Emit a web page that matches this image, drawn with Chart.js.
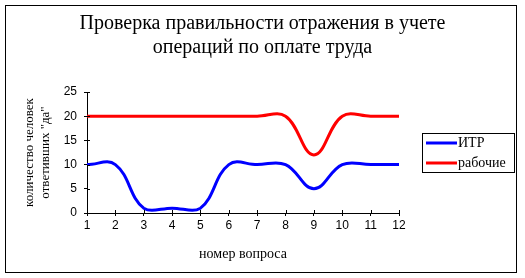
<!DOCTYPE html>
<html>
<head>
<meta charset="utf-8">
<script src="https://cdn.jsdelivr.net/npm/chart.js@4"></script>
<style>
  html, body { margin: 0; padding: 0; background: #fff; }
  #wrap { width: 525px; height: 278px; }
</style>
</head>
<body>
<div id="wrap"><canvas id="chart" width="525" height="278"></canvas></div>
<script>
// chart data
const questions = ['1','2','3','4','5','6','7','8','9','10','11','12'];
const itrValues = [10, 10, 1, 1, 1, 10, 10, 10, 5, 10, 10, 10];
const workerValues = [20, 20, 20, 20, 20, 20, 20, 20, 12, 20, 20, 20];
const yTicks = [0, 5, 10, 15, 20, 25];

const titleLines = ['Проверка правильности отражения в учете', 'операций по оплате труда'];
const yTitle = ['количество человек', 'ответивших "да"'];
const xTitle = 'номер вопроса';

const serif = 'Liberation Serif';
const sans = 'Liberation Sans';

// white page, outer frame
const framePlugin = {
  id: 'frame',
  beforeDraw(chart) {
    const ctx = chart.ctx;
    ctx.save();
    ctx.fillStyle = '#fff';
    ctx.fillRect(0, 0, chart.width, chart.height);
    ctx.strokeStyle = '#000';
    ctx.lineWidth = 1;
    ctx.strokeRect(5.5, 5.5, 511, 267);
    ctx.restore();
  }
};

// Excel style tick marks crossing the axis (inner half)
const innerTicks = {
  id: 'innerTicks',
  afterDraw(chart) {
    const ctx = chart.ctx;
    const xs = chart.scales.x, ys = chart.scales.y;
    ctx.save();
    ctx.strokeStyle = '#000';
    ctx.lineWidth = 1;
    ctx.beginPath();
    xs.ticks.forEach((t, i) => {
      const px = Math.round(xs.getPixelForTick(i)) + 0.5;
      ctx.moveTo(px, xs.top);
      ctx.lineTo(px, xs.top - 3);
    });
    ys.ticks.forEach((t, i) => {
      const py = Math.round(ys.getPixelForTick(i)) + 0.5;
      ctx.moveTo(ys.right, py);
      ctx.lineTo(ys.right + 3, py);
    });
    ctx.stroke();
    ctx.restore();
  }
};

// boxed legend on the right
const boxLegend = {
  id: 'boxLegend',
  afterDraw(chart) {
    const ctx = chart.ctx;
    ctx.save();
    ctx.strokeStyle = '#000';
    ctx.lineWidth = 1;
    ctx.strokeRect(422.5, 133.5, 92, 39);
    ctx.font = '14px "' + serif + '"';
    ctx.textBaseline = 'middle';
    ctx.fillStyle = '#000';
    chart.data.datasets.forEach((ds, i) => {
      const y = 143 + i * 20;
      ctx.strokeStyle = ds.borderColor;
      ctx.lineWidth = 3;
      ctx.beginPath();
      ctx.moveTo(426, y);
      ctx.lineTo(457, y);
      ctx.stroke();
      ctx.fillText(ds.label, 458, y);
    });
    ctx.restore();
  }
};

const tickGrid = {
  drawOnChartArea: false,
  drawTicks: true,
  tickLength: 3,
  color: '#000'
};

new Chart(document.getElementById('chart'), {
  type: 'line',
  data: {
    labels: questions,
    datasets: [
      {
        label: 'ИТР',
        data: itrValues,
        borderColor: '#0000ff',
        backgroundColor: '#0000ff',
        borderWidth: 3,
        pointRadius: 0,
        tension: 0.4,
        fill: false
      },
      {
        label: 'рабочие',
        data: workerValues,
        borderColor: '#ff0000',
        backgroundColor: '#ff0000',
        borderWidth: 3,
        pointRadius: 0,
        tension: 0.4,
        fill: false
      }
    ]
  },
  options: {
    responsive: false,
    animation: false,
    devicePixelRatio: 1,
    layout: { padding: 0 },
    plugins: {
      legend: { display: false },
      tooltip: { enabled: false },
      title: {
        display: true,
        text: titleLines,
        color: '#000',
        font: { family: serif, size: 20, weight: 'normal', lineHeight: '24px' },
        padding: { top: 12, bottom: 32 }
      }
    },
    scales: {
      x: {
        type: 'category',
        offset: false,
        grid: tickGrid,
        border: { color: '#000', width: 1 },
        ticks: {
          color: '#000',
          font: { family: sans, size: 12 },
          padding: 2,
          maxRotation: 0,
          autoSkip: false
        },
        title: {
          display: true,
          text: xTitle,
          color: '#000',
          font: { family: serif, size: 14, lineHeight: '14px' },
          padding: { top: 0, bottom: 17 }
        },
        afterFit(s) { s.height = 65; }
      },
      y: {
        position: 'left',
        min: 0,
        max: 25,
        afterBuildTicks(s) { s.ticks = yTicks.map(v => ({ value: v })); },
        grid: tickGrid,
        border: { color: '#000', width: 1 },
        ticks: {
          color: '#000',
          font: { family: sans, size: 12 },
          padding: 7
        },
        title: {
          display: true,
          text: yTitle,
          color: '#000',
          font: { family: serif, size: 13, lineHeight: '16px' },
          padding: { top: 22, bottom: 0 }
        },
        afterFit(s) { s.width = 87; }
      },
      // empty axis that keeps room for the legend on the right
      spacer: {
        position: 'right',
        display: true,
        grid: { display: false },
        border: { display: false },
        ticks: { display: false },
        afterFit(s) { s.width = 126; }
      }
    }
  },
  plugins: [framePlugin, innerTicks, boxLegend]
});
</script>
</body>
</html>
